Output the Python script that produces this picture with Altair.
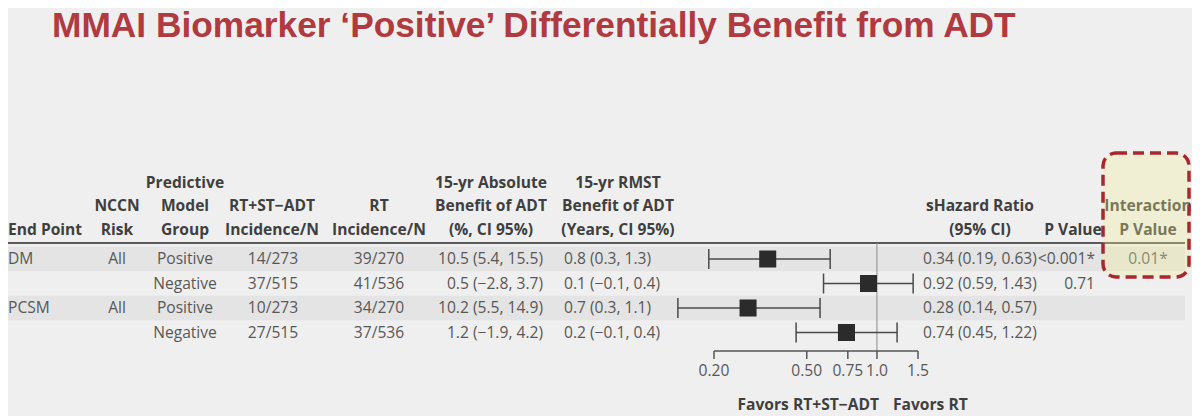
import altair as alt
import pandas as pd

# ---------------- data ----------------
TITLE = "MMAI Biomarker ‘Positive’ Differentially Benefit from ADT"
END_POINT = ["DM", "", "PCSM", ""]
NCCN_RISK = ["All", "", "All", ""]
MODEL_GROUP = ["Positive", "Negative", "Positive", "Negative"]
RT_ST_ADT_INC = ["14/273", "37/515", "10/273", "27/515"]
RT_INC = ["39/270", "41/536", "34/270", "37/536"]
ABS_BENEFIT = ["10.5 (5.4, 15.5)", "0.5 (−2.8, 3.7)", "10.2 (5.5, 14.9)", "1.2 (−1.9, 4.2)"]
RMST_BENEFIT = ["0.8 (0.3, 1.3)", "0.1 (−0.1, 0.4)", "0.7 (0.3, 1.1)", "0.2 (−0.1, 0.4)"]
SHR = [0.34, 0.92, 0.28, 0.74]
SHR_LO = [0.19, 0.59, 0.14, 0.45]
SHR_HI = [0.63, 1.43, 0.57, 1.22]
P_VALUE = ["<0.001*", "0.71", "", ""]
INTERACTION_P = ["0.01*", "", "", ""]
AXIS_TICKS = [0.20, 0.50, 0.75, 1.0, 1.5]
AXIS_LABELS = ["0.20", "0.50", "0.75", "1.0", "1.5"]
FAVORS_LEFT = "Favors RT+ST−ADT"
FAVORS_RIGHT = "Favors RT"

HEADERS = {
    "end": "End Point",
    "nccn": "NCCN\nRisk",
    "group": "Predictive\nModel\nGroup",
    "rtst": "RT+ST−ADT\nIncidence/N",
    "rt": "RT\nIncidence/N",
    "abs": "15-yr Absolute\nBenefit of ADT\n(%, CI 95%)",
    "rmst": "15-yr RMST\nBenefit of ADT\n(Years, CI 95%)",
    "shr": "sHazard Ratio\n(95% CI)",
    "p": "P Value",
    "pint": "Interaction\nP Value",
}

df = pd.DataFrame({
    "row": list(range(len(SHR))),
    "end": END_POINT,
    "nccn": NCCN_RISK,
    "group": MODEL_GROUP,
    "rtst": RT_ST_ADT_INC,
    "rt": RT_INC,
    "abs": ABS_BENEFIT,
    "rmst": RMST_BENEFIT,
    "hr": SHR,
    "lo": SHR_LO,
    "hi": SHR_HI,
    "p": P_VALUE,
    "pint": INTERACTION_P,
})
df["shr"] = [f"{h:.2f} ({l:.2f}, {u:.2f})" for h, l, u in zip(SHR, SHR_LO, SHR_HI)]
ticks_df = pd.DataFrame({"t": AXIS_TICKS, "lab": AXIS_LABELS})
one = pd.DataFrame({"a": [0]})

# ---------------- layout / style ----------------
W, H = 1184, 408
BG = "#efefef"
BAND = "#e4e4e4"
HEAD_C = "#3f3f3f"
BODY_C = "#585858"
INK = "#2b2b2b"
FONT = "Open Sans"
FS_HEAD = 15.6
FS_BODY = 15.6
LINE_H = 23.5
HEAD_LAST_Y = 229.5

XS = alt.Scale(type="log", domain=[0.2, 1.5], range=[706, 910], nice=False)
YS = alt.Scale(domain=[0, 3], range=[251, 324.5], nice=False, zero=False)

# column x positions and alignment (chart coords)
COLS = {
    "end": (0, "left"),
    "nccn": (109, "center"),
    "group": (177, "center"),
    "rtst": (264, "center"),
    "rt": (371, "center"),
    "abs": (483, "center"),
    "rmst": (610, "center"),
    "shr": (972, "center"),
    "p": (1065, "center"),
    "pint": (1140, "center"),
}
VALS = {
    "end": (0, "left"),
    "nccn": (109, "center"),
    "group": (177, "center"),
    "rtst": (265, "center"),
    "rt": (371, "center"),
    "abs": (535, "right"),
    "rmst": (556, "left"),
    "shr": (915, "left"),
    "p": (1087, "right"),
    "pint": (1140, "center"),
}

layers = []

# row bands
layers.append(
    alt.Chart(df).transform_filter("datum.row % 2 == 0")
    .transform_calculate(y0="datum.row - 0.5", y1="datum.row + 0.5")
    .mark_rect(color=BAND)
    .encode(x=alt.value(0), x2=alt.value(1177),
            y=alt.Y("y0:Q", scale=YS, axis=None), y2="y1:Q")
)

# header rule
layers.append(
    alt.Chart(one).mark_rule(color="#5a5a5a", strokeWidth=2)
    .encode(x=alt.value(0), x2=alt.value(1177), y=alt.value(235))
)

# reference line at 1.0
layers.append(
    alt.Chart(pd.DataFrame({"ref": [1.0]})).mark_rule(color="#8a8a8a", strokeWidth=1)
    .encode(x=alt.X("ref:Q", scale=XS, axis=None), y=alt.value(235), y2=alt.value(343))
)

# header texts (multi-line, bottom lines aligned)
for key, label in HEADERS.items():
    xp, al = COLS[key]
    n_lines = label.count("\n") + 1
    layers.append(
        alt.Chart(pd.DataFrame({"lab": [label]}))
        .mark_text(font=FONT, fontSize=FS_HEAD, fontWeight="bold", color=HEAD_C,
                   align=al, baseline="bottom", lineBreak="\n", lineHeight=LINE_H)
        .encode(text="lab:N", x=alt.value(xp),
                y=alt.value(HEAD_LAST_Y - (n_lines - 1) * LINE_H))
    )

# body texts
for key, (xp, al) in VALS.items():
    layers.append(
        alt.Chart(df).mark_text(font=FONT, fontSize=FS_BODY, color=BODY_C,
                                align=al, baseline="middle")
        .encode(text=f"{key}:N", x=alt.value(xp),
                y=alt.Y("row:Q", scale=YS, axis=None))
    )

# forest plot: CI lines, caps, squares
layers.append(
    alt.Chart(df).mark_rule(color="#4a4a4a", strokeWidth=1.5)
    .encode(x=alt.X("lo:Q", scale=XS, axis=None), x2="hi:Q",
            y=alt.Y("row:Q", scale=YS, axis=None))
)
for f in ["lo", "hi"]:
    layers.append(
        alt.Chart(df).mark_tick(orient="vertical", size=20, thickness=1.5, color="#4a4a4a", opacity=1)
        .encode(x=alt.X(f"{f}:Q", scale=XS, axis=None),
                y=alt.Y("row:Q", scale=YS, axis=None))
    )
layers.append(
    alt.Chart(df).mark_square(size=290, color=INK, opacity=1)
    .encode(x=alt.X("hr:Q", scale=XS, axis=None),
            y=alt.Y("row:Q", scale=YS, axis=None))
)

# forest axis
layers.append(
    alt.Chart(pd.DataFrame({"a": [AXIS_TICKS[0]], "b": [AXIS_TICKS[-1]]}))
    .mark_rule(color="#555555", strokeWidth=1.5)
    .encode(x=alt.X("a:Q", scale=XS, axis=None), x2="b:Q", y=alt.value(343))
)
layers.append(
    alt.Chart(ticks_df).mark_rule(color="#555555", strokeWidth=1.5)
    .encode(x=alt.X("t:Q", scale=XS, axis=None), y=alt.value(343), y2=alt.value(351))
)
layers.append(
    alt.Chart(ticks_df).mark_text(font=FONT, fontSize=FS_BODY, color=BODY_C, baseline="middle")
    .encode(x=alt.X("t:Q", scale=XS, axis=None), text="lab:N", y=alt.value(363))
)
layers.append(
    alt.Chart(pd.DataFrame({"lab": [FAVORS_LEFT]}))
    .mark_text(font=FONT, fontSize=FS_HEAD, fontWeight="bold", color=HEAD_C, align="right", baseline="middle")
    .encode(text="lab:N", x=alt.value(871), y=alt.value(397))
)
layers.append(
    alt.Chart(pd.DataFrame({"lab": [FAVORS_RIGHT]}))
    .mark_text(font=FONT, fontSize=FS_HEAD, fontWeight="bold", color=HEAD_C, align="left", baseline="middle")
    .encode(text="lab:N", x=alt.value(885), y=alt.value(397))
)

# highlight box over the interaction column
layers.append(
    alt.Chart(one).mark_rect(fill="#f4ef98", fillOpacity=0.32, stroke="#a8282c",
                             strokeWidth=3.5, strokeDash=[11, 6], cornerRadius=13)
    .encode(x=alt.value(1095), x2=alt.value(1181), y=alt.value(145), y2=alt.value(269))
)

# title
layers.append(
    alt.Chart(pd.DataFrame({"lab": [TITLE]}))
    .mark_text(font="Liberation Sans", fontSize=35.3, fontWeight="bold", color="#b03a3f",
               align="left", baseline="alphabetic")
    .encode(text="lab:N", x=alt.value(44), y=alt.value(28.5))
)

chart = (
    alt.layer(*layers)
    .properties(width=W, height=H, background=BG, padding=0,
                autosize=alt.AutoSizeParams(type="none"))
    .configure_view(stroke=None)
)

chart.save("out.html", embed_options={"renderer": "svg", "actions": False})
